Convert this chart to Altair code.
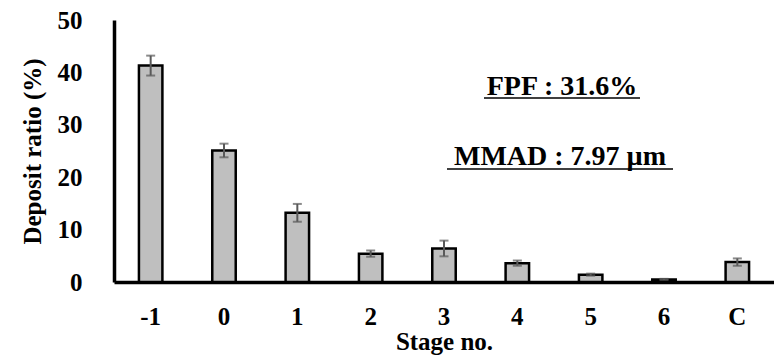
import altair as alt
import pandas as pd

stages = ["-1", "0", "1", "2", "3", "4", "5", "6", "C"]
values = [41.3, 25.1, 13.2, 5.4, 6.4, 3.6, 1.4, 0.5, 3.8]
errors = [1.9, 1.3, 1.7, 0.6, 1.5, 0.5, 0.2, 0.1, 0.7]
y_ticks = [0, 10, 20, 30, 40, 50]

df = pd.DataFrame({"stage": stages, "value": values, "err": errors})
df["lo"] = df["value"] - df["err"]
df["hi"] = df["value"] + df["err"]

FONT = "'Liberation Serif', 'Times New Roman', Times, serif"

x_enc = alt.X("stage:N", sort=stages,
              scale=alt.Scale(paddingInner=0.68, paddingOuter=0.34),
              axis=alt.Axis(title="Stage no.", labelAngle=0, ticks=False,
                            labelPadding=22, titlePadding=0,
                            domainWidth=3.5, domainColor="black"))

bars = alt.Chart(df).mark_bar(fill="#bfbfbf", stroke="black", strokeWidth=2.5).encode(
    x=x_enc,
    y=alt.Y("value:Q", scale=alt.Scale(domain=[0, 50]),
            axis=alt.Axis(title="Deposit ratio (%)", values=y_ticks, ticks=False,
                          grid=False, labelPadding=32, titlePadding=12,
                          domainWidth=3.5, domainColor="black")),
)

err_rule = alt.Chart(df).mark_rule(color="#595959", strokeWidth=2).encode(
    x=alt.X("stage:N", sort=stages), y="lo:Q", y2="hi:Q")
cap_hi = alt.Chart(df).mark_tick(color="#595959", thickness=2, size=9, orient="horizontal").encode(
    x=alt.X("stage:N", sort=stages), y="hi:Q")
cap_lo = alt.Chart(df).mark_tick(color="#595959", thickness=2, size=9, orient="horizontal").encode(
    x=alt.X("stage:N", sort=stages), y="lo:Q")

fpf = alt.Chart(pd.DataFrame({"t": ["FPF : 31.6%"]})).mark_text(
    font=FONT, fontWeight="bold", fontSize=28, align="center", baseline="alphabetic", color="black"
).encode(text="t:N", x=alt.value(448), y=alt.value(75))
mmad = alt.Chart(pd.DataFrame({"t": ["MMAD : 7.97 µm"]})).mark_text(
    font=FONT, fontWeight="bold", fontSize=28, align="center", baseline="alphabetic", color="black"
).encode(text="t:N", x=alt.value(446), y=alt.value(145))
ul1 = alt.Chart(pd.DataFrame({"a": [0]})).mark_rule(color="black", strokeWidth=1.5).encode(
    x=alt.value(370), x2=alt.value(526), y=alt.value(78))
ul2 = alt.Chart(pd.DataFrame({"a": [0]})).mark_rule(color="black", strokeWidth=1.5).encode(
    x=alt.value(333), x2=alt.value(559), y=alt.value(149))

chart = alt.layer(bars, err_rule, cap_hi, cap_lo, fpf, mmad, ul1, ul2).properties(
    width=660, height=262,
    autosize="none",
    padding={"left": 106, "top": 12, "right": 0, "bottom": 78},
).configure_view(stroke=None).configure_axis(
    labelFont=FONT, titleFont=FONT, labelFontWeight="bold", titleFontWeight="bold",
    labelFontSize=25, titleFontSize=25, labelColor="black", titleColor="black", grid=False
)

chart.save("out.html", embed_options={"renderer": "svg", "actions": False})
